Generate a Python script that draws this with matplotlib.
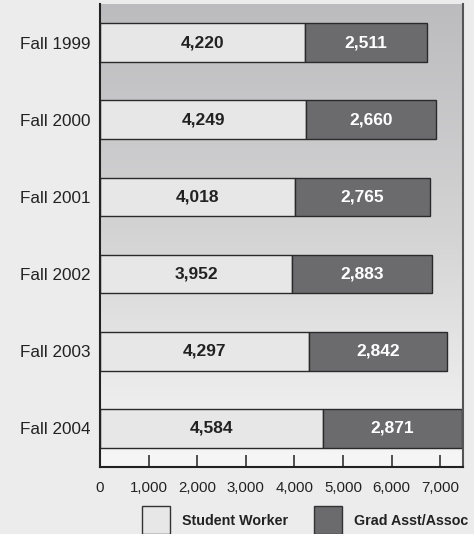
import matplotlib
matplotlib.use("Agg")
import matplotlib.pyplot as plt
import numpy as np
from matplotlib.patches import Rectangle

terms = ["Fall 1999", "Fall 2000", "Fall 2001", "Fall 2002", "Fall 2003", "Fall 2004"]
student_worker = [4220, 4249, 4018, 3952, 4297, 4584]
grad_asst = [2511, 2660, 2765, 2883, 2842, 2871]
xticks = [0, 1000, 2000, 3000, 4000, 5000, 6000, 7000]
legend_labels = ["Student Worker", "Grad Asst/Assoc"]

light = "#e7e7e8"
dark = "#6b6b6e"
bg = "#ececec"
font = ["Liberation Sans", "DejaVu Sans"]

fig = plt.figure(figsize=(4.74, 5.34), dpi=100, facecolor=bg)
ax = fig.add_axes([100 / 474, (534 - 467) / 534, 363 / 474, 463 / 534])

y = np.arange(len(terms))
ax.set_xlim(0, 7470)
ax.set_ylim(len(terms) - 0.5, -0.5)

# gray-to-white gradient behind the bars
grad = np.linspace(0, 1, 256).reshape(-1, 1)
cmap = matplotlib.colors.LinearSegmentedColormap.from_list("g", ["#bcbcbe", "#d4d4d5", "#f7f7f7"])
ax.imshow(grad, cmap=cmap, aspect="auto", extent=[0, 7470, len(terms) - 0.5, -0.5],
          zorder=0, interpolation="bilinear")

ax.barh(y, student_worker, height=0.5, color=light, edgecolor="#2a2a2a", linewidth=1.0, zorder=2)
ax.barh(y, grad_asst, left=student_worker, height=0.5, color=dark, edgecolor="#2a2a2a",
        linewidth=1.0, zorder=2)

for i in range(len(terms)):
    ax.text(student_worker[i] / 2, y[i], f"{student_worker[i]:,}", ha="center", va="center",
            fontsize=12.5, fontweight="bold", color="#222222", family=font, zorder=3)
    ax.text(student_worker[i] + grad_asst[i] / 2, y[i], f"{grad_asst[i]:,}", ha="center",
            va="center", fontsize=12.5, fontweight="bold", color="white", family=font, zorder=3)

ax.set_yticks(y)
ax.set_yticklabels(terms, family=font, fontsize=12.3, color="#222222")
ax.tick_params(axis="y", length=0, pad=7)

ax.set_xticks(xticks)
ax.set_xticklabels([f"{t:,}" for t in xticks], family=font, fontsize=10.8, color="#222222")
ax.tick_params(axis="x", direction="in", length=9, width=1.2, color="#333333", pad=10)

ax.spines["top"].set_visible(False)
ax.spines["left"].set_color("#222222")
ax.spines["left"].set_linewidth(1.5)
ax.spines["bottom"].set_color("#222222")
ax.spines["bottom"].set_linewidth(1.5)
ax.spines["right"].set_color("#555555")
ax.spines["right"].set_linewidth(1.5)

# legend drawn in figure pixel coordinates
W, H = 474, 534
for (x0, color, tx, label) in [(142, light, 182, legend_labels[0]),
                               (314, dark, 354, legend_labels[1])]:
    fig.patches.append(Rectangle((x0 / W, (H - 534) / H), 28 / W, 28 / H, transform=fig.transFigure,
                                 facecolor=color, edgecolor="#333333", linewidth=1.0))
    fig.text(tx / W, (H - 521) / H, label, ha="left", va="center", fontsize=10.3,
             fontweight="bold", family=font, color="#222222")

fig.savefig("out.png", dpi=100, facecolor=bg)
